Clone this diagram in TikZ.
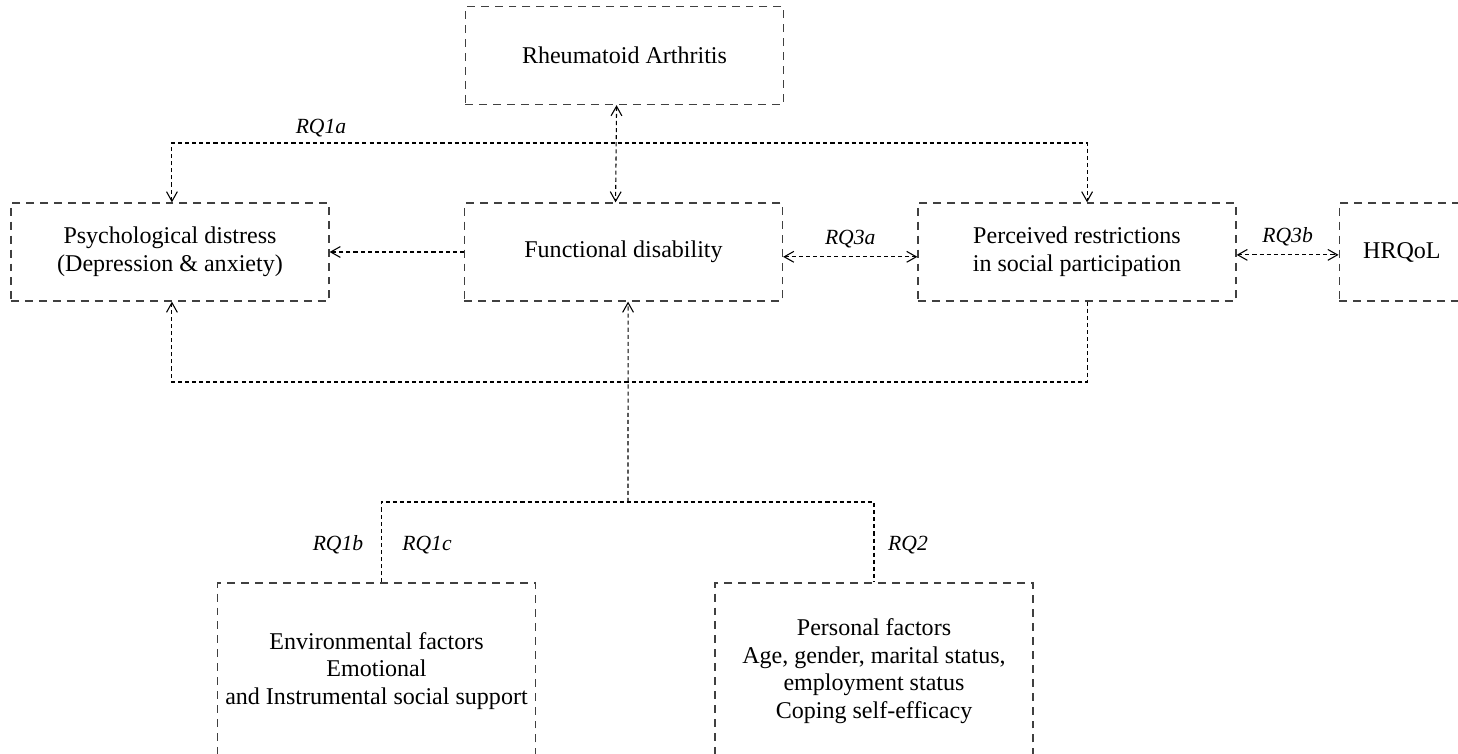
\documentclass[tikz,border=0pt]{standalone}
\usepackage{fontspec}
\setmainfont{Liberation Serif}
\usetikzlibrary{arrows.meta, positioning}

\begin{document}
\begin{tikzpicture}[x=0.416pt, y=-0.416pt, font=\fontsize{10}{11.5}\selectfont, >={Straight Barb[length=4pt, width=4.5pt]}]
\tikzstyle{block} = [rectangle, draw=black!75, line width=0.5pt, dash pattern=on 3.3pt off 2.5pt, minimum width=132.3pt, minimum height=40.8pt, inner sep=0pt, align=center]
\tikzstyle{factor} = [block, minimum height=73.2pt]
\tikzstyle{line} = [draw, line width=0.45pt, dash pattern=on 1.7pt off 1.25pt]
\tikzstyle{rq} = [font=\fontsize{9}{11}\selectfont\itshape]

\path[use as bounding box, clip] (0,0) rectangle (1458,754);

\node [block] (ra) at (624.5,55.5) {Rheumatoid Arthritis};

\node [block] (psych) at (170,252) {Psychological distress\\(Depression \& anxiety)};
\node [block] (func) at (623.5,252) {Functional disability};
\node [block] (perc) at (1077,252) {Perceived restrictions\\in social participation};
\node [block, right=42.4pt of perc, inner xsep=10pt, text width=112.3pt, align=left] (hrqol) {HRQoL};

\node [factor] (env) at (376.5,671) {Environmental factors\\Emotional\\and Instrumental social support};
\node [factor] (pers) at (874,671) {Personal factors\\Age, gender, marital status,\\employment status\\Coping self-efficacy};

% junctions of the dashed lines
\coordinate (rqa) at (624,143);
\coordinate (loop) at (624,382);
\coordinate (fork) at (628,502);

\draw [line, <->] ([xshift=-3.3pt]ra.south) -- ([xshift=-3.3pt]func.north);
\draw [line, <->] ([xshift=0.8pt]psych.north) |- (rqa) -| ([xshift=4.2pt]perc.north);
\node [rq] (rq1a) at (321,128) {RQ1a};

\draw [line, ->] (func.west) -- (psych.east);
\draw [line, <->] ([yshift=-2pt]func.east) -- node[rq, above] (rq3a) {RQ3a} ([yshift=-2pt]perc.west);
\draw [line, <->] ([yshift=-1.2pt]perc.east) -- node[rq, above] (rq3b) {RQ3b} ([yshift=-1.2pt]hrqol.west);

\draw [line, ->] ([xshift=4.2pt]perc.south) |- (loop) -| ([xshift=0.8pt]psych.south);

\draw [line, ->] (fork) -- ([xshift=1.9pt]func.south);
\draw [line] ([xshift=1.9pt]env.north) |- (fork) -| (pers.north);

\node [rq] (rq1b) at (338,545) {RQ1b};
\node [rq] (rq1c) at (427,545) {RQ1c};
\node [rq] (rq2) at (908,545) {RQ2};

\end{tikzpicture}
\end{document}
